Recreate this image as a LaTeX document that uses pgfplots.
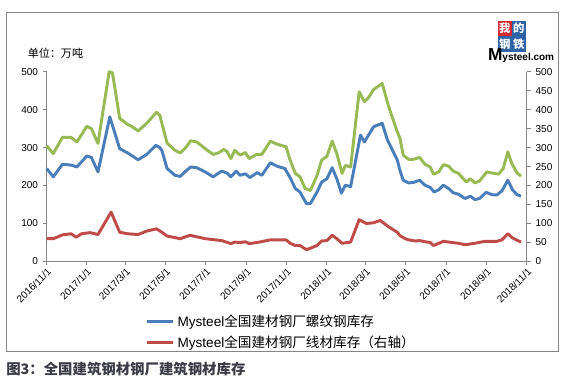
\documentclass[border=0pt]{standalone}
\usepackage{pgfplots}
\pgfplotsset{compat=1.18}
\usepackage{fontspec}
\setmainfont{Liberation Sans}
\newfontfamily\cjk{Noto Sans CJK SC}
\definecolor{cblue}{HTML}{4A7EBB}
\definecolor{cred}{HTML}{BE4B48}
\definecolor{cgreen}{HTML}{98B954}
\definecolor{axgray}{HTML}{868686}
\definecolor{capcol}{HTML}{3B3B45}
\definecolor{logored}{HTML}{D42A2F}
\definecolor{logoblue}{HTML}{2F63A8}
\pgfplotsset{
  common/.style={
    at={(35.0pt,88.9pt)}, anchor=south west, scale only axis,
    width=360.2pt, height=142.35pt,
    xmin=0, xmax=730, ymin=0, ymax=500,
    axis line style={axgray, line width=0.75pt},
    tick style={axgray, line width=0.75pt},
    major tick length=3pt, tick align=outside,
    tick label style={font=\fontsize{7.5}{9}\selectfont, text=black},
    /pgf/number format/assume math mode=true,
    clip=false,
  }
}
\begin{document}
\begin{tikzpicture}
\path[use as bounding box] (0,0) rectangle (420.75pt,285pt);
\draw[axgray, line width=0.75pt] (4.875pt,21.225pt) rectangle (418.5pt,275.475pt);
\begin{axis}[common,
  axis x line*=bottom, axis y line*=left,
  ytick={0,100,...,500},
  xtick={0,61,120,181,242,304,365,426,485,546,607,669,730},
  xticklabels={2016/11/1,2017/1/1,2017/3/1,2017/5/1,2017/7/1,2017/9/1,2017/11/1,2018/1/1,2018/3/1,2018/5/1,2018/7/1,2018/9/1,2018/11/1},
  xticklabel style={rotate=45, anchor=north east, inner sep=1pt},
]
\addplot[cgreen, line width=2.2pt, line join=round] coordinates {
(0,305)(10,284)(24,327)(37,327)(46,315)(61,356)(68,350)(78,311)(95,500)(100,497)(111,377)(123,361)(129,356)(139,344)(152,364)(167,393)(172,385)(183,312)(195,293)(203,286)(210,297)(219,318)(228,315)(241,297)(253,282)(261,286)(269,295)(274,290)(280,271)(286,293)(294,280)(302,287)(308,271)(319,282)(327,282)(340,317)(350,309)(358,305)(364,302)(370,267)(378,232)(385,223)(393,192)(401,187)(411,227)(418,267)(426,277)(434,317)(441,284)(449,232)(454,253)(462,249)(475,447)(483,421)(489,431)(497,453)(510,469)(520,407)(532,346)(537,324)(542,280)(550,269)(557,269)(567,274)(575,256)(583,249)(588,230)(596,236)(603,255)(611,251)(618,238)(626,232)(638,209)(644,218)(651,207)(658,212)(669,236)(677,233)(687,230)(694,245)(701,289)(707,258)(715,233)(721,225)
};
\addplot[cblue, line width=2.2pt, line join=round] coordinates {
(0,245)(10,223)(24,256)(37,254)(46,249)(61,278)(68,274)(78,236)(96,381)(111,297)(123,286)(139,268)(152,282)(166,306)(172,300)(175,293)(183,245)(195,227)(203,224)(210,236)(219,249)(228,247)(241,236)(253,223)(266,238)(274,233)(280,223)(288,238)(294,227)(302,231)(309,221)(320,234)(327,227)(340,260)(350,251)(362,245)(370,221)(378,192)(385,183)(395,152)(401,153)(411,183)(418,209)(426,218)(434,247)(441,218)(448,180)(454,201)(462,197)(477,333)(483,315)(497,355)(510,364)(518,320)(533,267)(537,240)(542,214)(550,207)(557,208)(567,214)(575,201)(583,195)(589,183)(596,189)(603,201)(611,192)(618,181)(626,177)(636,166)(644,172)(651,163)(658,166)(668,182)(677,176)(684,175)(692,186)(701,214)(708,189)(715,176)(721,172)
};
\end{axis}
\begin{axis}[common,
  axis x line=none, axis y line*=right,
  ytick={0,50,...,500},
  legend style={at={(0.2047,-0.3733)}, anchor=west, draw=none, fill=none,
    inner sep=0pt, row sep=1.5pt, font=\fontsize{10.2}{12}\selectfont},
  legend cell align=left,
  legend image code/.code={\draw[#1] (0pt,0pt) -- (20pt,0pt);},
]
\addlegendimage{cblue, line width=2.2pt}
\addlegendentry{Mysteel{\cjk 全国建材钢厂螺纹钢库存}}
\addplot[cred, line width=2.2pt, line join=round] coordinates {
(0,60)(10,60)(24,70)(37,73)(45,64)(53,73)(66,76)(78,71)(98,130)(111,77)(123,73)(139,71)(152,80)(167,86)(175,77)(183,67)(203,60)(218,69)(241,60)(266,55)(280,47)(286,51)(294,50)(302,52)(308,47)(323,51)(340,57)(355,57)(364,57)(370,48)(378,42)(385,42)(395,31)(411,42)(418,54)(426,55)(434,69)(441,60)(449,48)(462,51)(475,110)(486,100)(497,102)(507,108)(520,91)(533,77)(537,68)(545,60)(550,57)(560,54)(567,55)(575,52)(583,50)(588,42)(603,53)(616,50)(626,48)(636,44)(651,48)(666,53)(684,53)(692,57)(701,73)(708,62)(721,51)
};
\addlegendentry{Mysteel{\cjk 全国建材钢厂线材库存（右轴）}}
\end{axis}
\node[anchor=center, inner sep=0pt, font=\cjk\fontsize{8.3}{10}\selectfont] at (41.6pt,245.25pt) {单位：万吨};
% logo
\fill[logored] (373.3pt,269.5pt) rectangle (383.8pt,257.9pt);
\fill[logoblue] (383.8pt,269.5pt) rectangle (394.3pt,257.9pt);
\fill[logoblue] (373.3pt,257.9pt) rectangle (383.8pt,246.3pt);
\fill[logoblue] (383.8pt,257.9pt) rectangle (394.3pt,246.3pt);
\node[text=white, inner sep=0pt, font=\cjk\bfseries\fontsize{8.5}{9}\selectfont] at (378.55pt,263.7pt) {我};
\node[text=white, inner sep=0pt, font=\cjk\bfseries\fontsize{8.5}{9}\selectfont] at (389.05pt,263.7pt) {的};
\node[text=white, inner sep=0pt, font=\cjk\bfseries\fontsize{8.5}{9}\selectfont] at (378.55pt,252.1pt) {钢};
\node[text=white, inner sep=0pt, font=\cjk\bfseries\fontsize{8.5}{9}\selectfont] at (389.05pt,252.1pt) {铁};
\node[anchor=base west, inner sep=0pt] at (365.8pt,240pt) {{\bfseries\fontsize{13}{13}\selectfont M}{\bfseries\fontsize{7.5}{8}\selectfont ysteel.com}};
% caption
\node[anchor=west, inner sep=0pt, text=capcol, font=\cjk\bfseries\fontsize{10.8}{12}\selectfont] at (4.5pt,7.9pt) {图3：全国建筑钢材钢厂建筑钢材库存};
\end{tikzpicture}
\end{document}
